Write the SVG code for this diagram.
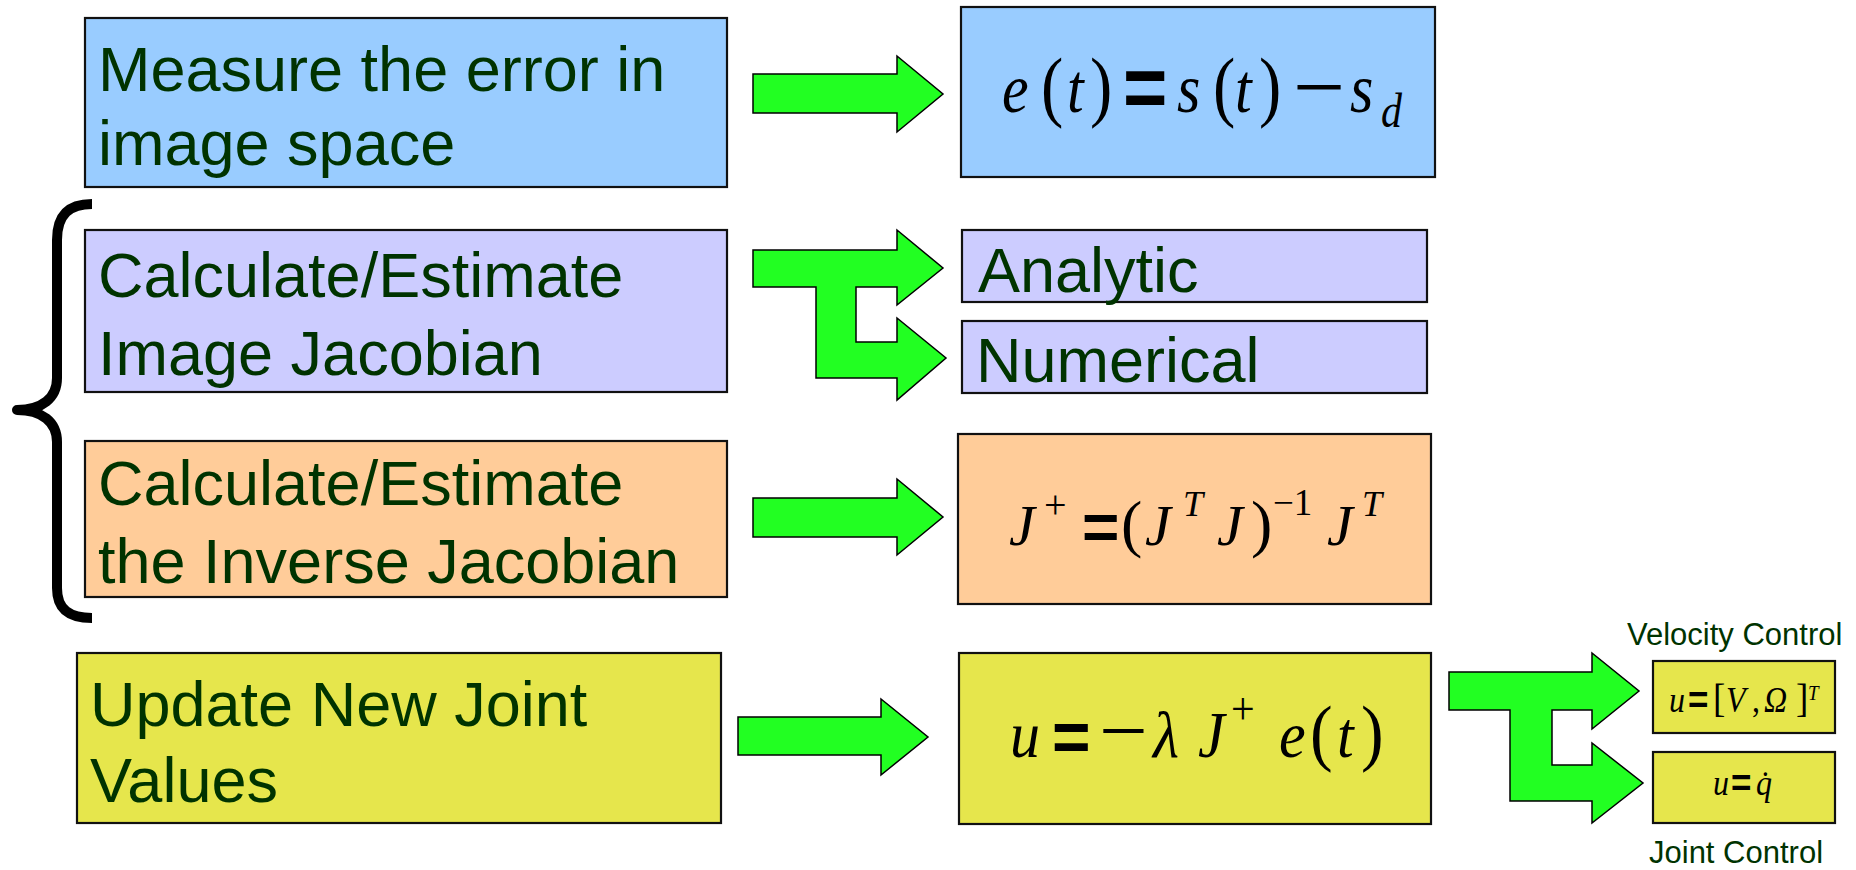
<svg xmlns="http://www.w3.org/2000/svg" width="1856" height="870" viewBox="0 0 1856 870">
<style>
.box{stroke:#111;stroke-width:2.2}
.blue{fill:#99CCFF}.lav{fill:#CCCCFF}.org{fill:#FFCC99}.yel{fill:#E6E64C}
.lbl{font-family:"Liberation Sans",Arial,sans-serif;font-size:63px;fill:#003300}
.sm{font-family:"Liberation Sans",Arial,sans-serif;font-size:31px;fill:#003300}
.mi{font-family:"Liberation Serif","Times New Roman",serif;font-style:italic;fill:#000}
.mn{font-family:"Liberation Serif","Times New Roman",serif;font-style:normal;fill:#000}
.eq{font-family:"Liberation Sans",Arial,sans-serif;font-weight:bold;font-style:normal;fill:#000}
.arr{fill:#22FF22;stroke:#000;stroke-width:1.5;stroke-linejoin:miter}
.brace{fill:none;stroke:#000;stroke-width:10;stroke-linejoin:round;stroke-linecap:butt}
</style>

<g id="brace"><path class="brace" d="M92,204 C70,204 57,214 57,240 L57,378 C57,398 42,410 17,410 C42,410 57,422 57,442 L57,588 C57,610 70,618 92,618"/></g>

<g id="node-measure">
<rect class="box blue" x="85" y="18" width="642" height="169"/>
<text class="lbl" x="98" y="91">Measure the error in</text>
<text class="lbl" x="98" y="165">image space</text>
</g>

<g id="node-error">
<rect class="box blue" x="961" y="7" width="474" height="170"/>
<g transform="translate(0,112) scale(1,1.18)">
<text><tspan class="mi" font-size="60" x="1002" y="0">e</tspan><tspan class="mn" font-size="67" x="1041" y="0">(</tspan><tspan class="mi" font-size="60" x="1067" y="0">t</tspan><tspan class="mn" font-size="67" x="1090" y="0">)</tspan><tspan class="eq" font-size="76" x="1123" y="5">=</tspan><tspan class="mi" font-size="60" x="1177" y="0">s</tspan><tspan class="mn" font-size="67" x="1213" y="0">(</tspan><tspan class="mi" font-size="60" x="1235" y="0">t</tspan><tspan class="mn" font-size="67" x="1259" y="0">)</tspan><tspan class="mi" font-size="60" x="1350" y="0">s</tspan><tspan class="mi" font-size="42" x="1381" y="13">d</tspan></text>
<text class="mn" font-size="76" transform="translate(1293,4) scale(1.22,1)" x="0" y="0">−</text>
</g>
</g>

<g id="node-jacobian">
<rect class="box lav" x="85" y="230" width="642" height="162"/>
<text class="lbl" x="98" y="297">Calculate/Estimate</text>
<text class="lbl" x="98" y="375">Image Jacobian</text>
</g>

<g id="node-analytic">
<rect class="box lav" x="962" y="230" width="465" height="72"/>
<text class="lbl" x="978" y="292">Analytic</text>
</g>

<g id="node-numerical">
<rect class="box lav" x="962" y="321" width="465" height="72"/>
<text class="lbl" x="976" y="382">Numerical</text>
</g>

<g id="node-inverse">
<rect class="box org" x="85" y="441" width="642" height="156"/>
<text class="lbl" x="98" y="505">Calculate/Estimate</text>
<text class="lbl" x="98" y="583">the Inverse Jacobian</text>
</g>

<g id="node-pinv">
<rect class="box org" x="958" y="434" width="473" height="170"/>
<text><tspan class="mi" font-size="58" x="1009" y="545">J</tspan><tspan class="mn" font-size="40" x="1044" y="518">+</tspan><tspan class="eq" font-size="64" x="1082" y="549">=</tspan><tspan class="mn" font-size="64" x="1121" y="545">(</tspan><tspan class="mi" font-size="58" x="1145" y="545">J</tspan><tspan class="mi" font-size="36" x="1183" y="516">T</tspan><tspan class="mi" font-size="58" x="1217" y="545">J</tspan><tspan class="mn" font-size="64" x="1251" y="545">)</tspan><tspan class="mn" font-size="37" x="1273" y="515">−1</tspan><tspan class="mi" font-size="58" x="1327" y="545">J</tspan><tspan class="mi" font-size="36" x="1362" y="516">T</tspan></text>
</g>

<g id="node-update">
<rect class="box yel" x="77" y="653" width="644" height="170"/>
<text class="lbl" x="90" y="726">Update New Joint</text>
<text class="lbl" x="90" y="802">Values</text>
</g>

<g id="node-control">
<rect class="box yel" x="959" y="653" width="472" height="171"/>
<g transform="translate(0,757) scale(1,1.1)">
<text><tspan class="mi" font-size="60" x="1010" y="0">u</tspan><tspan class="eq" font-size="66" x="1052" y="3.6">=</tspan><tspan class="mi" font-size="60" x="1153" y="0">λ</tspan><tspan class="mi" font-size="60" x="1198" y="0">J</tspan><tspan class="mn" font-size="42" x="1231" y="-30">+</tspan><tspan class="mi" font-size="60" x="1279" y="0">e</tspan><tspan class="mn" font-size="68" x="1310" y="0">(</tspan><tspan class="mi" font-size="60" x="1337" y="0">t</tspan><tspan class="mn" font-size="68" x="1361" y="0">)</tspan></text>
<text class="mn" font-size="72" transform="translate(1099,0) scale(1.2,1)" x="0" y="0">−</text>
</g>
</g>

<g id="node-velocity">
<text class="sm" x="1627" y="645">Velocity Control</text>
<rect class="box yel" x="1653" y="661" width="182" height="72"/>
<g transform="translate(0,712) scale(1,1.1)">
<text><tspan class="mi" font-size="32" x="1669" y="0">u</tspan><tspan class="eq" font-size="35" x="1688" y="1">=</tspan><tspan class="mn" font-size="37" x="1713" y="0">[</tspan><tspan class="mi" font-size="32" x="1726" y="0">V</tspan><tspan class="mn" font-size="32" x="1752" y="0">,</tspan><tspan class="mi" font-size="32" x="1764" y="0">Ω</tspan><tspan class="mn" font-size="37" x="1796" y="0">]</tspan><tspan class="mi" font-size="19" x="1808" y="-11">T</tspan></text>
</g>
</g>

<g id="node-joint">
<rect class="box yel" x="1653" y="752" width="182" height="71"/>
<g transform="translate(0,795) scale(1,1.1)">
<text><tspan class="mi" font-size="32" x="1713" y="0">u</tspan><tspan class="eq" font-size="35" x="1731" y="1">=</tspan><tspan class="mi" font-size="32" x="1756" y="0">q̇</tspan></text>
</g>
<text class="sm" x="1649" y="863">Joint Control</text>
</g>

<g id="connectors">
<path class="arr" d="M753,74 H897 V56 L943,94 L897,132 V113 H753 Z"/>
<path class="arr" d="M753,250 H897 V230 L943,268 L897,305 V287 H856 V342 H897 V318 L946,358 L897,400 V378 H816 V287 H753 Z"/>
<path class="arr" d="M753,498 H897 V479 L943,517 L897,555 V537 H753 Z"/>
<path class="arr" d="M738,717 H881 V699 L928,737 L881,775 V755 H738 Z"/>
<path class="arr" d="M1449,672 H1592 V653 L1639,691 L1592,729 V710 H1552 V765 H1592 V743 L1643,783 L1592,823 V801 H1510 V710 H1449 Z"/>
</g>
</svg>
